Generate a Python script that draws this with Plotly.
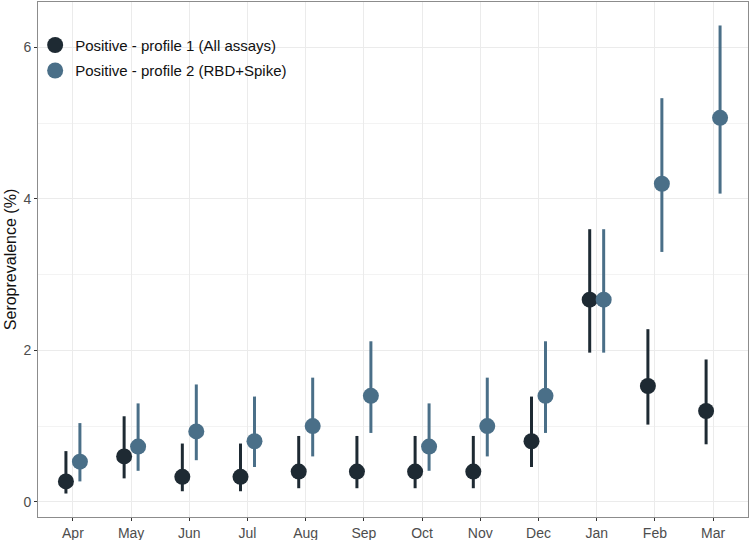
import plotly.graph_objects as go

months = ["Apr", "May", "Jun", "Jul", "Aug", "Sep", "Oct", "Nov", "Dec", "Jan", "Feb", "Mar"]

p1_est = [0.27, 0.60, 0.33, 0.33, 0.40, 0.40, 0.40, 0.40, 0.80, 2.67, 1.53, 1.20]
p1_lo = [0.11, 0.31, 0.14, 0.14, 0.18, 0.18, 0.18, 0.18, 0.46, 1.97, 1.02, 0.76]
p1_hi = [0.67, 1.13, 0.77, 0.77, 0.87, 0.87, 0.87, 0.87, 1.39, 3.60, 2.28, 1.88]

p2_est = [0.53, 0.73, 0.93, 0.80, 1.00, 1.40, 0.73, 1.00, 1.40, 2.67, 4.20, 5.07]
p2_lo = [0.27, 0.41, 0.55, 0.46, 0.60, 0.91, 0.41, 0.60, 0.91, 1.97, 3.30, 4.07]
p2_hi = [1.04, 1.30, 1.55, 1.39, 1.64, 2.12, 1.30, 1.64, 2.12, 3.60, 5.33, 6.29]

names = ["Positive - profile 1 (All assays)", "Positive - profile 2 (RBD+Spike)"]
colors = ["#1e2a33", "#4a6f88"]

fig = go.Figure()
for i, (name, col, est, lo, hi) in enumerate([
    (names[0], colors[0], p1_est, p1_lo, p1_hi),
    (names[1], colors[1], p2_est, p2_lo, p2_hi),
]):
    fig.add_trace(go.Scatter(
        x=months, y=est, mode="markers", name=name,
        legendgroup="g%d" % i,
        marker=dict(color=col, size=16, line=dict(width=0)),
        error_y=dict(type="data", symmetric=False,
                     array=[h - e for h, e in zip(hi, est)],
                     arrayminus=[e - l for e, l in zip(est, lo)],
                     color=col, thickness=3, width=0),
        offsetgroup=name,
    ))

fig.update_layout(
    width=750, height=540,
    margin=dict(l=38, r=2, t=2, b=23, pad=0),
    paper_bgcolor="white", plot_bgcolor="white",
    scattermode="group", scattergap=0.52,
    font=dict(family="Liberation Sans, Arial, sans-serif", size=14, color="#333333"),
    showlegend=True,
    legend=dict(x=-0.004, y=0.948, xanchor="left", yanchor="top",
                bgcolor="rgba(0,0,0,0)", font=dict(size=15, color="#111111"),
                tracegroupgap=3),
    xaxis=dict(
        type="category", categoryorder="array", categoryarray=months,
        range=[-0.6, 11.6], automargin=False,
        showgrid=True, gridcolor="#ebebeb", gridwidth=1,
        showline=True, linecolor="#8c8c8c", linewidth=1, mirror=True,
        ticks="outside", ticklen=3, tickcolor="#333333",
        tickfont=dict(size=14, color="#4d4d4d"), zeroline=False,
    ),
    yaxis=dict(
        range=[-0.2, 6.6], tickvals=[0, 2, 4, 6], automargin=False,
        showgrid=True, gridcolor="#ebebeb", gridwidth=1,
        minor=dict(tickvals=[1, 3, 5], showgrid=True, gridcolor="#f3f3f3", gridwidth=1),
        showline=True, linecolor="#8c8c8c", linewidth=1, mirror=True,
        ticks="outside", ticklen=3, tickcolor="#333333",
        tickfont=dict(size=14, color="#4d4d4d"), zeroline=False,
        title=dict(text="Seroprevalence (%)", font=dict(size=16, color="#111111"), standoff=2),
    ),
)

fig.write_html("out.html", config={"displayModeBar": False},
               post_script="document.body.style.margin='0';")
